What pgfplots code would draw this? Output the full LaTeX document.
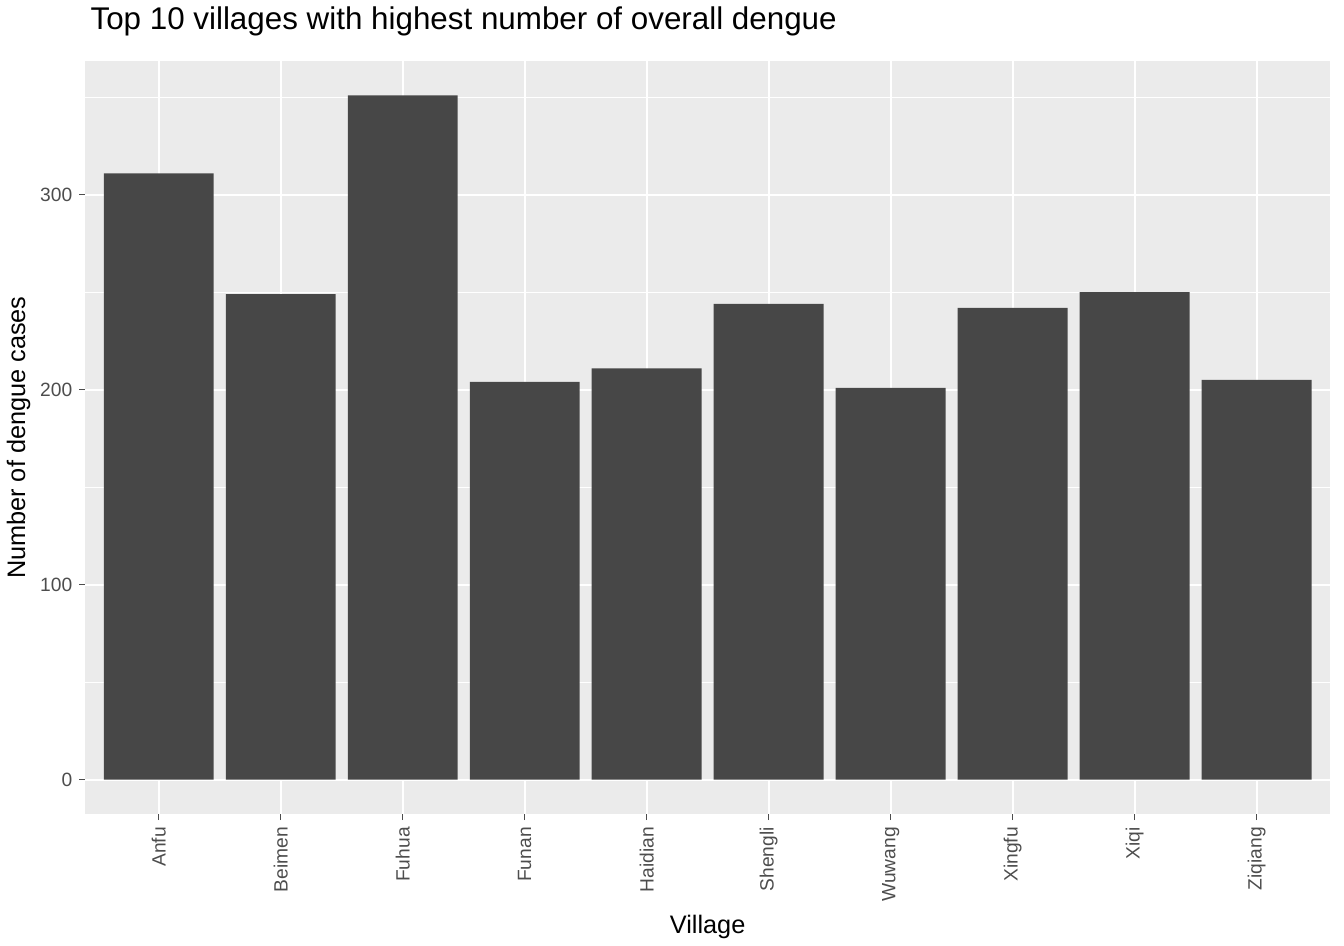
\documentclass[border=0pt]{standalone}
\usepackage{fontspec}
\setmainfont{Liberation Sans}
\usepackage{pgfplots}
\pgfplotsset{compat=1.18}
\definecolor{panel}{HTML}{EBEBEB}
\definecolor{barc}{HTML}{474747}
\definecolor{tickc}{HTML}{4D4D4D}
\begin{document}
\begin{tikzpicture}
\begin{axis}[
  scale only axis, width=615pt, height=372pt,
  xmin=-0.6, xmax=9.6, ymin=-17.6, ymax=368.4,
  axis background/.style={fill=panel},
  axis line style={draw=none},
  xtick={0,...,9},
  xticklabels={Anfu,Beimen,Fuhua,Funan,Haidian,Shengli,Wuwang,Xingfu,Xiqi,Ziqiang},
  ytick={0,100,200,300},
  minor ytick={50,150,250,350},
  grid=both,
  major grid style={white, line width=1.1pt},
  minor grid style={white, line width=0.5pt},
  tick style={tickc, line width=0.5pt},
  major tick length=3pt, minor tick length=0pt,
  tick align=outside, xtick pos=bottom, ytick pos=left,
  ticklabel style={font=\fontsize{9.5}{10}\selectfont, text=tickc},
  xticklabel style={rotate=90, anchor=east},
  /pgf/number format/assume math mode=true,
  title={Top 10 villages with highest number of overall dengue},
  title style={font=\fontsize{15.5}{17}\selectfont, anchor=south west, at={(0,1)}, xshift=-1pt, yshift=3pt},
  xlabel={Village}, ylabel={Number of dengue cases},
  label style={font=\fontsize{12.5}{14}\selectfont},
  ylabel style={yshift=-2pt},
]
\addplot[ybar, bar width=0.9, fill=barc, draw=none] coordinates {
(0,311) (1,249) (2,351) (3,204) (4,211) (5,244) (6,201) (7,242) (8,250) (9,205)};
\end{axis}
\path ([xshift=7pt]current axis.east);
\end{tikzpicture}
\end{document}
